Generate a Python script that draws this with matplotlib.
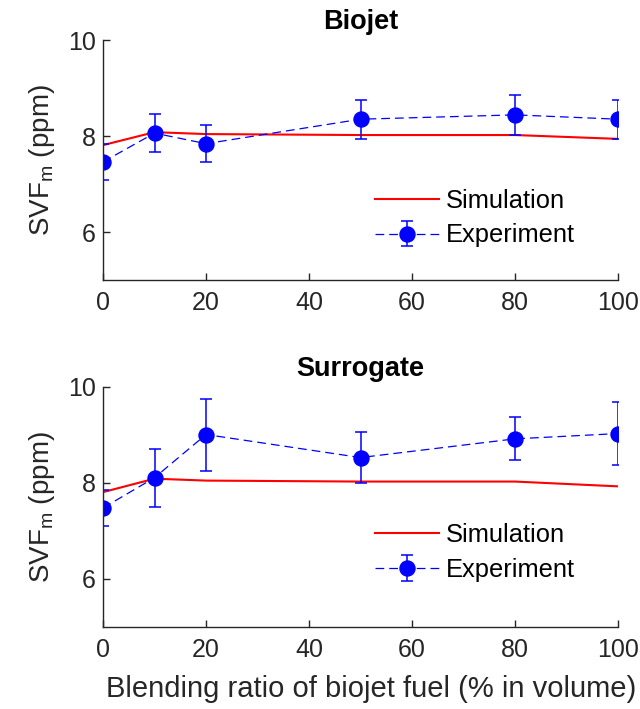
import matplotlib
matplotlib.use("Agg")
import matplotlib.pyplot as plt

# blending ratio (% in volume)
ratio = [0, 10, 20, 50, 80, 100]

# simulation
sim_biojet = [7.81, 8.08, 8.04, 8.02, 8.02, 7.94]
sim_surrogate = [7.81, 8.09, 8.05, 8.03, 8.03, 7.93]

# experiments
exp_biojet = [7.46, 8.06, 7.84, 8.35, 8.44, 8.35]
err_biojet = [0.37, 0.40, 0.39, 0.41, 0.42, 0.41]
exp_surrogate = [7.48, 8.11, 9.01, 8.53, 8.92, 9.03]
err_surrogate = [0.37, 0.60, 0.75, 0.53, 0.45, 0.65]

titles = ["Biojet", "Surrogate"]
xticks = [0, 20, 40, 60, 80, 100]
yticks = [6, 8, 10]

plt.rcParams["font.family"] = ["Liberation Sans", "DejaVu Sans"]
plt.rcParams["mathtext.fontset"] = "custom"
plt.rcParams["mathtext.rm"] = "Liberation Sans"

gray = "#262626"
fig = plt.figure(figsize=(6.4, 7.09), dpi=100)

axes_pos = [
    [103 / 640, 429 / 709, 515 / 640, 240 / 709],
    [103 / 640, 82 / 709, 515 / 640, 240 / 709],
]
legend_y = [0.258, 0.31]
sims = [sim_biojet, sim_surrogate]
exps = [exp_biojet, exp_surrogate]
errs = [err_biojet, err_surrogate]

for i in range(2):
    ax = fig.add_axes(axes_pos[i])
    ax.plot(ratio, sims[i], color="red", lw=1.5, label="Simulation")
    ax.errorbar(ratio, exps[i], yerr=errs[i], color="blue", ls=(0, (7, 4)), lw=0.9,
                marker="o", ms=10.8, capsize=4.3, elinewidth=1.1, capthick=1.1,
                label="Experiment")
    ax.set_xlim(0, 100)
    ax.set_ylim(5, 10)
    ax.set_xticks(xticks)
    ax.set_yticks(yticks)
    ax.spines["top"].set_visible(False)
    ax.spines["right"].set_visible(False)
    for s in ["left", "bottom"]:
        ax.spines[s].set_color(gray)
        ax.spines[s].set_linewidth(1.0)
    ax.tick_params(direction="in", length=5, width=1.0, colors=gray, labelsize=18)
    ax.tick_params(axis="x", pad=8)
    ax.tick_params(axis="y", pad=5)
    ax.set_ylabel("SVF$_\\mathrm{m}$ (ppm)", fontsize=20, color=gray, labelpad=8)
    ax.set_title(titles[i], fontsize=19.5, fontweight="bold", pad=8)
    ax.legend(loc="center left", bbox_to_anchor=(0.528, legend_y[i]),
              frameon=False, fontsize=18.4, handlelength=2.5,
              handletextpad=0.27, labelspacing=0.42, borderpad=0,
              borderaxespad=0)
    if i == 1:
        ax.set_xlabel("Blending ratio of biojet fuel (% in volume)",
                      fontsize=21, color=gray, labelpad=10)
        ax.xaxis.set_label_coords(0.52, -0.2, transform=ax.transAxes)
        ax.xaxis.label.set_va("top")

fig.savefig("out.png", dpi=100)
